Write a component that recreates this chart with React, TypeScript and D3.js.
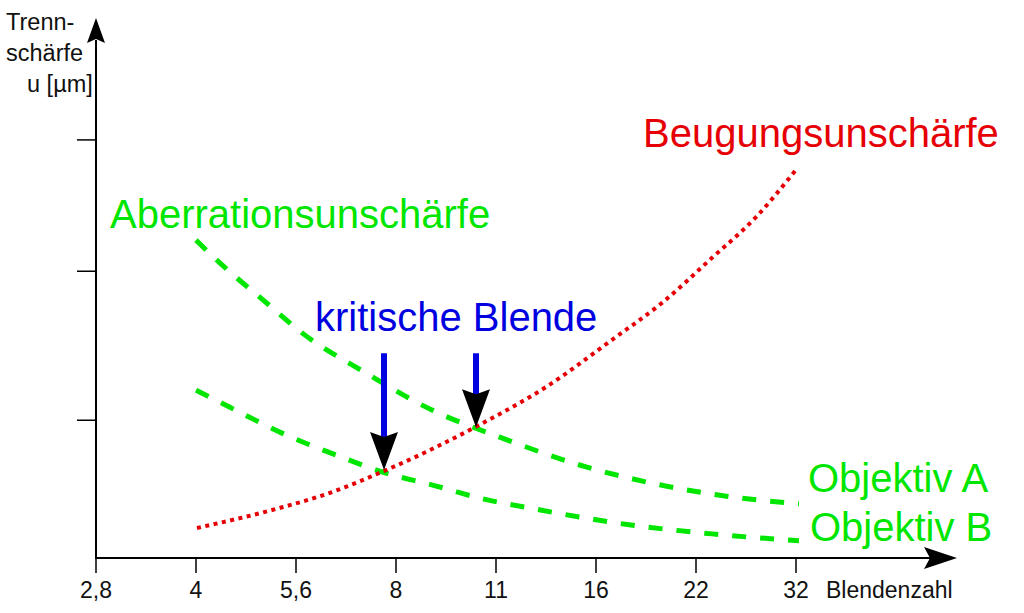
import React from "react";
import * as d3 from "d3";

// f-stop tick labels (equal spacing, one stop each)
const stopLabels = ["2,8", "4", "5,6", "8", "11", "16", "22", "32"];

// y ticks (arbitrary units of u)
const yTicks = [2.57, 5.35, 7.8];

// Beugungsunschärfe (diffraction blur): [stop index, u]
const diffraction: [number, number][] = [
  [1.01, 0.56], [1.83, 0.93], [2.33, 1.21], [2.9, 1.64], [3.38, 2.05],
  [3.83, 2.48], [4.5, 3.19], [5.16, 4.07], [5.66, 4.76], [6.16, 5.6],
  [6.6, 6.36], [6.99, 7.22],
];

// Aberrationsunschärfe Objektiv A
const objektivA: [number, number][] = [
  [1.0, 5.93], [1.26, 5.47], [1.73, 4.72], [2.06, 4.2], [2.7, 3.45],
  [3.36, 2.76], [4.03, 2.26], [4.9, 1.7], [5.5, 1.42], [6.36, 1.14], [7.03, 1.01],
];

// Aberrationsunschärfe Objektiv B
const objektivB: [number, number][] = [
  [1.0, 3.13], [1.33, 2.82], [1.86, 2.33], [2.4, 1.92], [2.96, 1.55],
  [3.33, 1.38], [3.83, 1.12], [4.43, 0.9], [5.33, 0.62], [6.16, 0.45], [7.03, 0.32],
];

// kritische Blende arrows: stop, top of arrow, tip (intersection)
const critical = [
  { stop: 2.88, top: 3.82, tip: 1.64 },
  { stop: 3.8, top: 3.82, tip: 2.44 },
];

const GREEN = "#00e600";
const RED = "#e60005";
const BLUE = "#0000e0";
const FONT = "'Liberation Sans', Arial, sans-serif";

export default function App() {
  const x = d3.scaleLinear().domain([0, 7]).range([96, 796]);
  const y = d3.scaleLinear().domain([0, 10]).range([558, 22]);
  const line = d3
    .line<[number, number]>()
    .x((d) => x(d[0]))
    .y((d) => y(d[1]))
    .curve(d3.curveMonotoneX);

  const x0 = x(0);
  const y0 = y(0);

  return (
    <svg
      width={1024}
      height={613}
      style={{ position: "absolute", left: 0, top: 0, background: "#fff" }}
      fontFamily={FONT}
    >
      {/* axes */}
      <line x1={x0} y1={y0} x2={x0} y2={40} stroke="#000" strokeWidth={2} />
      <path d={`M${x0},18 L${x0 - 9},43 L${x0},39 L${x0 + 9},43 Z`} fill="#000" />
      <line x1={x0 - 1} y1={y0} x2={930} y2={y0} stroke="#000" strokeWidth={2} />
      <path d={`M957,${y0} L924,${y0 - 11} L930,${y0} L924,${y0 + 11} Z`} fill="#000" />

      {yTicks.map((t, i) => (
        <line key={i} x1={x0 - 19} x2={x0} y1={y(t)} y2={y(t)} stroke="#000" strokeWidth={1.5} />
      ))}
      {stopLabels.map((lab, i) => (
        <g key={lab}>
          <line x1={x(i)} x2={x(i)} y1={y0} y2={y0 + 15} stroke="#000" strokeWidth={1.5} />
          <text x={x(i)} y={598} textAnchor="middle" fontSize={23} fill="#111">
            {lab}
          </text>
        </g>
      ))}
      <text x={826} y={598} fontSize={23} fill="#111">Blendenzahl</text>

      <text x={6} y={30} fontSize={23.5} fill="#111">Trenn-</text>
      <text x={6} y={61} fontSize={23.5} fill="#111">schärfe</text>
      <text x={27} y={92} fontSize={23.5} fill="#111">u [µm]</text>

      {/* curves */}
      <path d={line(objektivA) || ""} fill="none" stroke={GREEN} strokeWidth={5} strokeDasharray="14 14" />
      <path d={line(objektivB) || ""} fill="none" stroke={GREEN} strokeWidth={5} strokeDasharray="14 14" />
      <path d={line(diffraction) || ""} fill="none" stroke={RED} strokeWidth={4} strokeDasharray="4 4.5" />

      {/* critical aperture arrows */}
      {critical.map((c, i) => {
        const cx = x(c.stop);
        const tip = y(c.tip);
        const base = tip - 38;
        return (
          <g key={i}>
            <line x1={cx} x2={cx} y1={y(c.top)} y2={base + 6} stroke={BLUE} strokeWidth={6} />
            <path
              d={`M${cx},${tip} L${cx - 14},${base} L${cx},${base + 5} L${cx + 14},${base} Z`}
              fill="#000"
            />
          </g>
        );
      })}

      {/* labels */}
      <text x={110} y={228} fontSize={40} fill={GREEN}>Aberrationsunschärfe</text>
      <text x={643} y={147} fontSize={40} fill={RED}>Beugungsunschärfe</text>
      <text x={315} y={331} fontSize={40} fill={BLUE}>kritische Blende</text>
      <text x={808} y={492} fontSize={40} fill={GREEN}>Objektiv A</text>
      <text x={810} y={541} fontSize={40} fill={GREEN}>Objektiv B</text>
    </svg>
  );
}
